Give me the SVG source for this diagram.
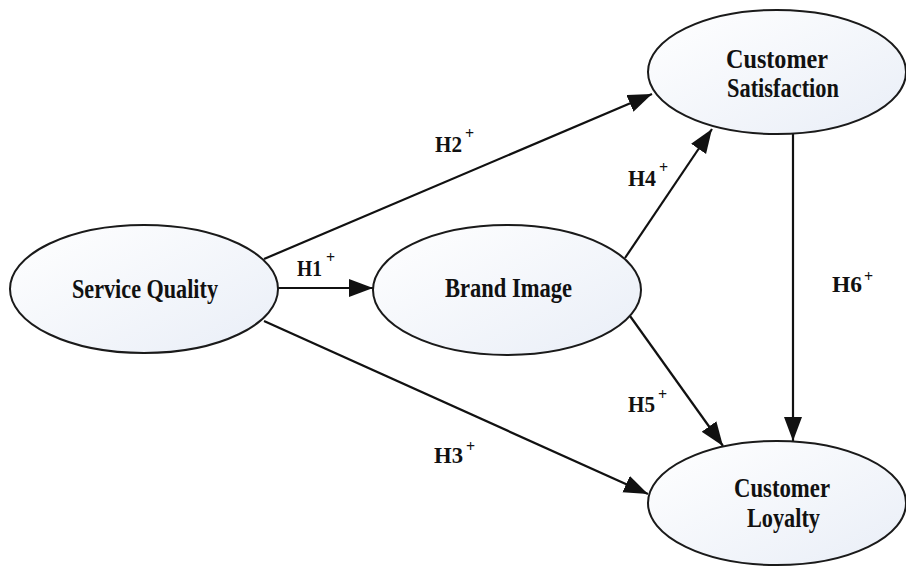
<svg xmlns="http://www.w3.org/2000/svg" width="906" height="566" viewBox="0 0 906 566">
  <style>
    .node { stroke: #1a1a1a; stroke-width: 2; fill: url(#nodeFill); }
    .name { font-family: "Liberation Serif", "Times New Roman", serif; font-weight: bold; font-size: 28px; fill: #111; }
    .hyp { font-family: "Liberation Serif", "Times New Roman", serif; font-weight: bold; font-size: 24px; fill: #111; }
    .sup { font-family: "Liberation Serif", "Times New Roman", serif; font-weight: bold; font-size: 16px; fill: #111; }
    .link { stroke: #111; stroke-width: 2.2; fill: none; marker-end: url(#head); }
  </style>
  <defs>
    <linearGradient id="nodeFill" x1="0" y1="0" x2="1" y2="1">
      <stop offset="0" stop-color="#ffffff"/>
      <stop offset="1" stop-color="#e9eef7"/>
    </linearGradient>
    <marker id="head" markerUnits="userSpaceOnUse" markerWidth="26" markerHeight="20" refX="24" refY="9" orient="auto">
      <path d="M0,0 L24,9 L0,18 z" fill="#111"/>
    </marker>
  </defs>
  <rect width="906" height="566" fill="#ffffff"/>

  <g id="connectors">
    <line id="h1" class="link" x1="277" y1="288" x2="373" y2="288"/>
    <line id="h2" class="link" x1="264" y1="259" x2="652" y2="94"/>
    <line id="h3" class="link" x1="264" y1="321" x2="648" y2="494"/>
    <line id="h4" class="link" x1="625" y1="258" x2="712" y2="129"/>
    <line id="h5" class="link" x1="630" y1="316" x2="723" y2="446"/>
    <line id="h6" class="link" x1="793" y1="134" x2="793" y2="441"/>
  </g>

  <g id="labels">
    <g id="label-h1"><text class="hyp" x="297" y="276" textLength="25" lengthAdjust="spacingAndGlyphs">H1</text><text class="sup" x="326" y="263">+</text></g>
    <g id="label-h2"><text class="hyp" x="435" y="152" textLength="27" lengthAdjust="spacingAndGlyphs">H2</text><text class="sup" x="465" y="139">+</text></g>
    <g id="label-h3"><text class="hyp" x="434" y="463" textLength="29" lengthAdjust="spacingAndGlyphs">H3</text><text class="sup" x="466" y="452">+</text></g>
    <g id="label-h4"><text class="hyp" x="628" y="186" textLength="28" lengthAdjust="spacingAndGlyphs">H4</text><text class="sup" x="659" y="173">+</text></g>
    <g id="label-h5"><text class="hyp" x="628" y="412" textLength="27" lengthAdjust="spacingAndGlyphs">H5</text><text class="sup" x="658" y="400">+</text></g>
    <g id="label-h6"><text class="hyp" x="832" y="292" textLength="30" lengthAdjust="spacingAndGlyphs">H6</text><text class="sup" x="864" y="282">+</text></g>
  </g>

  <g id="service-quality">
    <ellipse class="node" cx="144" cy="289" rx="134" ry="64"/>
    <text class="name" x="72" y="298" textLength="146" lengthAdjust="spacingAndGlyphs">Service Quality</text>
  </g>

  <g id="brand-image">
    <ellipse class="node" cx="507" cy="290" rx="134" ry="65"/>
    <text class="name" x="445" y="297" textLength="127" lengthAdjust="spacingAndGlyphs">Brand Image</text>
  </g>

  <g id="customer-satisfaction">
    <ellipse class="node" cx="777" cy="72" rx="129" ry="62"/>
    <text class="name" x="726" y="68" textLength="102" lengthAdjust="spacingAndGlyphs">Customer</text>
    <text class="name" x="727" y="97" textLength="112" lengthAdjust="spacingAndGlyphs">Satisfaction</text>
  </g>

  <g id="customer-loyalty">
    <ellipse class="node" cx="777" cy="503" rx="129" ry="62"/>
    <text class="name" x="734" y="497" textLength="96" lengthAdjust="spacingAndGlyphs">Customer</text>
    <text class="name" x="747" y="527" textLength="73" lengthAdjust="spacingAndGlyphs">Loyalty</text>
  </g>
</svg>
